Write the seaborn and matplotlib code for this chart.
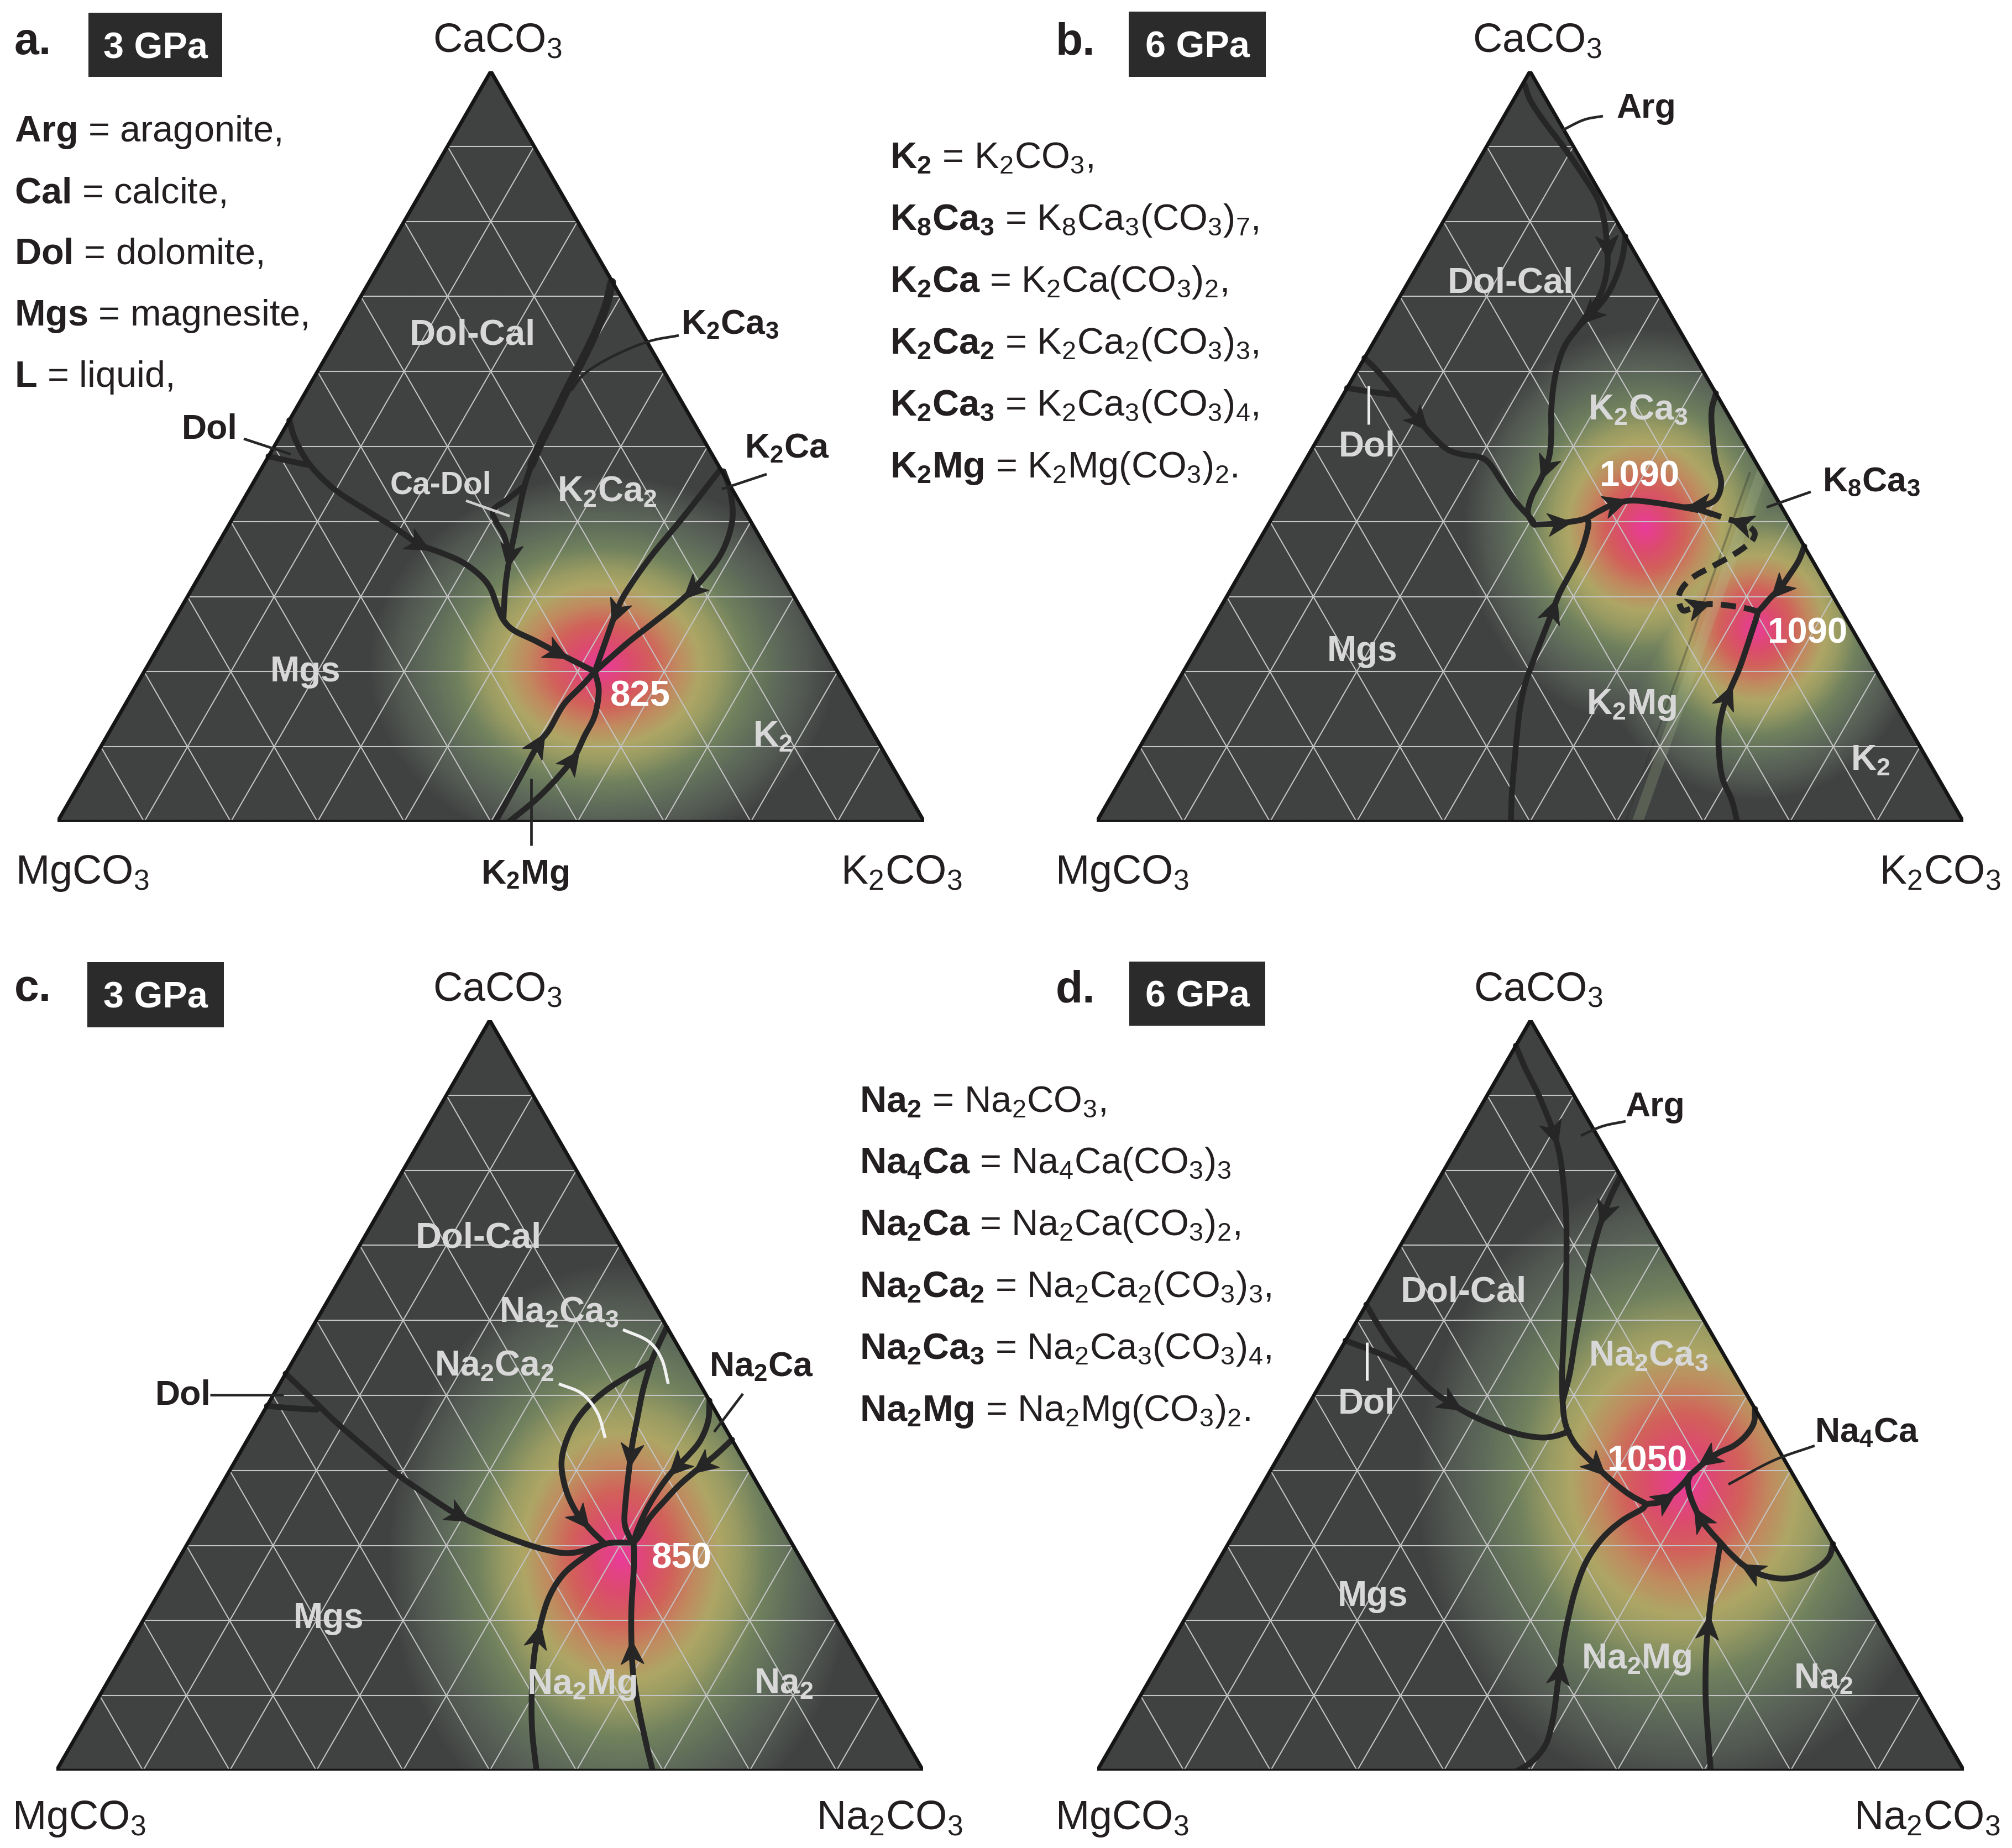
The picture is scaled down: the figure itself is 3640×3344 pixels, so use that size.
import numpy as np
import matplotlib
matplotlib.use("Agg")
import matplotlib.pyplot as plt
import seaborn as sns
from matplotlib.colors import LinearSegmentedColormap
from matplotlib.patches import Polygon, Rectangle
from matplotlib.markers import MarkerStyle
from matplotlib.path import Path
from matplotlib.transforms import Affine2D

# ---------------- DATA: boundary curves as (CaCO3 mol%, alkali carbonate mol%) ----------------
# panel a : 3 GPa, K2CO3-MgCO3-CaCO3
A_DOL = [(53.5, 0), (50.9, 2.0), (47.6, 5.3), (44.3, 9.8), (41.5, 14.9), (39.2, 19.3), (37.0, 23.2),
         (35.9, 26.2), (34.7, 29.2), (33.0, 32.1), (31.2, 34.3), (28.8, 36.3), (26.9, 38.0),
         (25.5, 39.9), (24.1, 43.1), (22.4, 46.7), (20.0, 52.0)]
A_DOL_SMALL = [(48.7, 0), (48.1, 2.6), (47.5, 5.4)]
A_K2CA3_TOP = [(71.9, 28.0), (68.8, 28.9), (65.1, 29.5), (61.3, 29.8), (57.5, 30.0), (53.8, 30.3),
               (50.5, 30.5), (47.6, 30.9)]
A_K2CA3_LOW = [(47.6, 30.9), (44.8, 31.5), (41.5, 32.5), (38.2, 33.6), (35.4, 34.5), (32.1, 35.7),
               (29.3, 36.9), (26.9, 38.0)]
A_CADOL = [(44.6, 31.4), (42.9, 30.4), (41.5, 29.5), (39.9, 30.7), (38.2, 32.4), (35.9, 34.1)]
A_K2CA_1 = [(46.9, 53.0), (40.6, 51.9), (35.4, 50.8), (30.7, 50.3), (27.9, 50.5), (24.1, 51.2), (20.0, 52.0)]
A_K2CA_2 = [(46.7, 53.5), (43.9, 55.7), (40.1, 57.8), (35.9, 58.7), (32.1, 58.2), (29.3, 57.1),
            (26.7, 55.6), (24.1, 54.0), (21.7, 52.8), (20.0, 52.0)]
A_MG_1 = [(0, 50.5), (1.9, 50.5), (6.2, 50.4), (10.4, 50.3), (12.3, 50.6), (15.6, 50.6), (18.0, 51.4), (20.0, 52.0)]
A_MG_2 = [(0, 52.1), (2.9, 53.7), (5.7, 54.7), (8.6, 55.3), (11.4, 55.1), (14.2, 54.9), (17.5, 53.7), (20.0, 52.0)]

# panel b : 6 GPa, K2CO3-MgCO3-CaCO3
B_ARG_1 = [(98.2, 0.3), (96.1, 2.0), (93.3, 5.0), (89.5, 9.4), (86.2, 13.0), (83.0, 16.3), (80.1, 18.5),
           (77.3, 20.2), (74.5, 21.7), (72.1, 22.6), (70.0, 23.0), (67.9, 22.8), (65.9, 22.6)]
B_ARG_2 = [(78.0, 22.0), (75.4, 23.0), (72.8, 23.6), (70.5, 23.8), (68.6, 23.5), (67.1, 23.0), (65.9, 22.6)]
B_ARG_MAIN = [(65.9, 22.6), (63.7, 22.3), (61.1, 22.7), (58.0, 23.7), (54.7, 25.1), (51.5, 26.7),
              (48.6, 27.9), (45.8, 28.4), (43.5, 28.5), (41.3, 29.1), (39.9, 30.3), (39.6, 30.7)]
B_DOL = [(61.8, 0), (59.9, 2.6), (57.6, 5.4), (55.2, 8.2), (53.1, 10.9), (51.2, 13.3), (49.6, 15.7),
         (48.9, 17.9), (48.6, 19.9), (47.7, 21.5), (45.3, 24.1), (42.5, 27.2), (40.4, 29.9), (39.6, 30.7)]
B_DOL_SMALL = [(57.8, 0), (57.3, 3.0), (56.9, 6.0)]
B_EUT1_LEFT = [(39.6, 30.7), (39.7, 32.8), (40.0, 34.8), (40.4, 36.2), (41.4, 37.3), (42.3, 38.5),
               (42.8, 40.3), (42.5, 43.3), (41.9, 46.8)]
B_EUT1_RIGHT = [(57.1, 42.9), (54.7, 43.6), (51.5, 45.3), (48.2, 47.3), (45.3, 49.4), (43.2, 50.0),
                (42.3, 49.3), (42.0, 47.8), (41.9, 46.8)]
B_K8CA3 = [(41.9, 46.8), (41.3, 49.6), (40.4, 52.4), (39.7, 54.8), (38.7, 56.5), (37.6, 56.9), (36.5, 56.4),
           (35.3, 55.4), (34.0, 54.0), (32.7, 52.6), (31.2, 52.0), (29.7, 52.3), (28.2, 53.5), (28.4, 54.4),
           (29.0, 56.1), (28.8, 58.6), (28.4, 60.9), (28.0, 62.3)]
B_EUT2_EDGE = [(36.7, 63.3), (34.8, 63.6), (32.9, 63.5), (31.2, 63.3), (29.8, 62.8), (28.6, 62.5), (28.0, 62.3)]
B_EUT2_BASE = [(0, 73.9), (2.8, 71.9), (5.8, 69.3), (9.2, 67.2), (12.2, 65.7), (15.2, 64.7), (17.5, 64.3),
               (20.1, 64.0), (22.7, 63.5), (25.0, 63.0), (26.9, 62.6), (28.0, 62.3)]
B_K2MG = [(0, 47.8), (3.6, 46.1), (7.3, 44.5), (11.1, 42.9), (14.8, 41.4), (18.2, 40.3), (21.2, 39.7),
          (24.2, 39.2), (27.3, 38.7), (30.3, 38.2), (32.9, 38.1), (35.2, 38.0), (37.4, 37.6), (39.7, 36.9), (40.4, 36.2)]
B_SEAM = [(0, 62.4), (46.5, 53.5)]   # faint seam of the 6 GPa K map

# panel c : 3 GPa, Na2CO3-MgCO3-CaCO3
C_DOL = [(52.9, 0), (50.2, 3.8), (46.6, 8.8), (43.0, 14.2), (39.6, 19.4), (37.0, 23.9), (34.3, 28.8),
         (32.5, 32.8), (30.8, 37.3), (29.5, 41.5), (29.0, 44.9), (30.2, 48.2)]
C_DOL_SMALL = [(48.6, 0), (48.3, 3.0), (48.1, 6.0)]
C_TOP = [(59.0, 40.9), (56.7, 41.1), (54.4, 41.4)]
C_NA2CA2 = [(54.4, 41.4), (52.7, 39.8), (50.7, 38.1), (48.1, 36.9), (45.1, 36.7), (41.4, 37.6),
            (37.8, 39.8), (34.7, 42.5), (32.4, 45.2), (30.2, 48.2)]
C_NA2CA3 = [(54.4, 41.4), (50.8, 42.3), (47.1, 43.5), (43.5, 44.7), (39.9, 46.1), (36.2, 47.6),
            (33.1, 49.0), (31.3, 50.4), (30.4, 51.4)]
C_NA2CA_1 = [(49.3, 50.7), (46.6, 51.9), (44.0, 52.3), (42.0, 51.9), (40.1, 51.2), (37.8, 50.8),
             (35.0, 50.7), (32.1, 51.0), (30.4, 51.4)]
C_NA2CA_2 = [(44.1, 55.9), (42.0, 55.0), (40.3, 54.0), (38.2, 52.9), (36.0, 52.2), (33.6, 51.6),
             (31.3, 51.6), (30.4, 51.4)]
C_MG_1 = [(0, 55.4), (5.2, 52.3), (10.3, 49.7), (15.5, 47.4), (19.2, 46.2), (23.0, 45.3), (26.1, 45.4),
          (28.4, 46.6), (30.2, 48.2), (30.4, 51.4)]
C_MG_2 = [(0, 68.8), (4.1, 65.9), (8.8, 62.7), (12.9, 60.1), (17.1, 57.8), (21.7, 55.5), (26.4, 53.4),
          (28.7, 52.3), (30.4, 51.4)]

# panel d : 6 GPa, Na2CO3-MgCO3-CaCO3
D_ARG = [(96.6, 0), (93.7, 2.5), (90.6, 5.4), (87.5, 8.1), (84.7, 10.4), (81.8, 12.5), (78.2, 14.7),
         (74.0, 17.1), (68.9, 19.7), (63.7, 22.2), (58.5, 24.6), (53.3, 27.0), (49.2, 29.1), (46.1, 31.0),
         (43.5, 33.4), (41.2, 36.4), (38.8, 39.8), (36.8, 43.0), (35.5, 45.7)]
D_NA2CA3 = [(79.0, 20.8), (76.4, 21.0), (73.0, 21.6), (69.4, 22.5), (65.2, 23.8), (61.1, 25.2),
            (57.0, 26.6), (52.8, 28.1), (49.2, 29.1)]
D_DOL = [(62.1, 0), (59.5, 2.6), (56.4, 5.9), (53.3, 9.7), (50.7, 13.2), (48.9, 16.4), (47.4, 19.4),
         (46.0, 22.8), (44.9, 26.0), (44.4, 28.9), (44.6, 30.6), (45.2, 31.8)]
D_DOL_SMALL = [(57.3, 0), (55.8, 4.2), (54.1, 8.4)]
D_MG_1 = [(0, 48.5), (1.3, 49.6), (3.6, 50.0), (7.0, 49.1), (10.4, 47.8), (13.8, 46.5), (17.2, 45.2),
          (20.6, 44.1), (24.2, 43.1), (27.9, 42.5), (31.0, 42.8), (33.3, 43.9), (34.8, 45.4), (35.5, 45.7),
          (35.8, 47.1), (37.0, 48.0), (38.3, 48.5), (39.4, 48.7)]
D_NA4CA = [(48.2, 51.8), (46.3, 52.6), (44.6, 52.5), (43.3, 51.8), (42.5, 50.7), (41.5, 49.7),
           (40.4, 49.2), (39.4, 48.7)]
D_PERI = [(30.4, 56.7), (31.8, 54.9), (33.4, 53.0), (35.2, 51.3), (36.9, 49.9), (38.3, 49.0), (39.4, 48.7)]
D_NA2 = [(30.2, 69.8), (28.5, 70.2), (27.0, 69.6), (25.9, 68.1), (25.6, 66.1), (26.1, 63.6),
         (27.3, 61.0), (29.0, 58.5), (30.4, 56.7)]
D_MG_2 = [(0, 70.8), (4.2, 68.4), (9.8, 65.3), (15.5, 62.5), (19.4, 60.8), (23.4, 59.2), (26.8, 58.0), (30.4, 56.7)]

# arrow heads: (CaCO3 %, alkali %, +1 along listed order / -1 against it)
A_DOL_AR = [(37.0, 23.2, 1), (22.6, 46.3, 1)]
A_K2CA3_AR = [(35.4, 34.5, 1)]
A_K2CA_1_AR = [(27.9, 50.5, 1)]
A_K2CA_2_AR = [(30.7, 57.9, 1)]
A_MG_1_AR = [(10.4, 50.3, 1)]
A_MG_2_AR = [(8.3, 55.2, 1)]
B_ARG_1_AR = [(76.4, 20.7, 1)]
B_ARG_2_AR = [(67.5, 23.1, 1)]
B_ARG_MAIN_AR = [(47.2, 28.3, 1)]
B_DOL_AR = [(53.3, 10.6, 1)]
B_EUT1_LEFT_AR = [(39.8, 33.5, 1), (42.3, 38.8, 1)]
B_EUT1_RIGHT_AR = [(42.2, 48.3, 1)]
B_K8CA3_AR = [(39.9, 54.3, -1), (28.7, 55.1, 1)]
B_EUT2_EDGE_AR = [(31.0, 63.2, 1)]
B_EUT2_BASE_AR = [(16.7, 64.3, 1)]
B_K2MG_AR = [(28.4, 37.9, 1)]
C_DOL_AR = [(33.9, 29.5, 1)]
C_NA2CA2_AR = [(33.7, 43.9, 1)]
C_NA2CA3_AR = [(42.0, 45.1, 1)]
C_NA2CA_1_AR = [(40.7, 51.2, 1)]
C_NA2CA_2_AR = [(40.7, 54.1, 1)]
C_MG_1_AR = [(18.1, 46.3, 1)]
C_MG_2_AR = [(16.0, 58.3, 1)]
D_ARG_AR = [(84.9, 10.5, 1), (40.4, 37.2, 1)]
D_NA2CA3_AR = [(74.3, 21.1, 1)]
D_DOL_AR = [(48.9, 16.4, 1)]
D_MG_1_AR = [(13.2, 46.3, 1), (36.2, 47.5, 1)]
D_NA4CA_AR = [(41.5, 49.7, 1)]
D_PERI_AR = [(33.5, 52.7, 1)]
D_NA2_AR = [(26.6, 62.2, 1)]
D_MG_2_AR = [(19.1, 61.0, 1)]

# temperature glows: (CaCO3 %, alkali %) of hottest spot (eutectic regions)
GLOW_A = [(20.8, 52.4)]
GLOW_B = [(39.3, 43.6), (25.8, 63.2)]
GLOW_C = [(28.5, 50.9)]
GLOW_D = [(38.3, 48.5)]
EUTECTIC_T = {"a": "825", "b": "1090", "c": "850", "d": "1050"}

# ---------------- style ----------------
sns.set_theme(style="white")
plt.rcParams["font.family"] = ["Liberation Sans", "DejaVu Sans"]
plt.rcParams["mathtext.fontset"] = "custom"
plt.rcParams["mathtext.rm"] = "Liberation Sans"
plt.rcParams["mathtext.bf"] = "Liberation Sans:bold"
plt.rcParams["mathtext.it"] = "Liberation Sans:italic"
plt.rcParams["mathtext.sf"] = "Liberation Sans"
plt.rcParams["mathtext.default"] = "regular"

W, H, DPI = 3640, 3344, 200
SIDE = 1568
SQ3 = np.sqrt(3) / 2
BG = "#404241"
CURVE = "#262626"
TXT = "#231f20"
LAB = "#d8d8d8"
LW = 3.8
GLOW_CMAP = LinearSegmentedColormap.from_list("glow", [
    (0.0, BG), (0.12, "#525752"), (0.25, "#5e6b5a"), (0.38, "#70815e"), (0.50, "#9a9c63"),
    (0.58, "#aea665"), (0.68, "#c18a5f"), (0.78, "#d2615a"), (0.88, "#dc4b6e"), (1.0, "#ea3b9b")])

STEALTH = Path([(1, 0), (-1, 0.95), (-0.45, 0), (-1, -0.95), (1, 0)],
               [Path.MOVETO, Path.LINETO, Path.LINETO, Path.LINETO, Path.CLOSEPOLY])

fig = plt.figure(figsize=(W / DPI, H / DPI), dpi=DPI)
fig.patch.set_facecolor("white")


def tern(pts):
    a = np.asarray(pts, float)
    ca, al = a[:, 0] / 100.0, a[:, 1] / 100.0
    return al + ca / 2.0, ca * SQ3


def smooth(x, y, n=14):
    P = np.column_stack([x, y])
    if len(P) < 3:
        return np.asarray(x, float), np.asarray(y, float)
    P = np.vstack([2 * P[0] - P[1], P, 2 * P[-1] - P[-2]])
    out = []
    for i in range(1, len(P) - 2):
        p0, p1, p2, p3 = P[i - 1], P[i], P[i + 1], P[i + 2]
        for t in np.linspace(0, 1, n, endpoint=False):
            out.append(0.5 * (2 * p1 + (-p0 + p2) * t + (2 * p0 - 5 * p1 + 4 * p2 - p3) * t * t
                              + (-p0 + 3 * p1 - 3 * p2 + p3) * t ** 3))
    out.append(P[-2])
    out = np.array(out)
    return out[:, 0], out[:, 1]


def draw_curve(ax, pts, arrows=(), lw=LW, ls="-"):
    x, y = tern(pts)
    xs, ys = smooth(x, y)
    n0 = len(ax.lines)
    sns.lineplot(x=xs, y=ys, sort=False, estimator=None, ax=ax, color=CURVE, legend=False, zorder=6)
    for ln in ax.lines[n0:]:
        ln.set_linewidth(lw)
        ln.set_linestyle(ls)
        ln.set_solid_capstyle("round")
        ln.set_dash_capstyle("butt")
    for ca, al, d in arrows:
        px, py = tern([(ca, al)])
        i = int(np.argmin(np.hypot(xs - px[0], ys - py[0])))
        i0, i1 = max(i - 2, 0), min(i + 2, len(xs) - 1)
        ang = np.degrees(np.arctan2(ys[i1] - ys[i0], xs[i1] - xs[i0])) + (0 if d > 0 else 180)
        ms = MarkerStyle(STEALTH, transform=Affine2D().rotate_deg(ang))
        ax.plot([xs[i]], [ys[i]], marker=ms, ms=15.5, color=CURVE, mec=CURVE, mew=0.6,
                ls="none", zorder=7)


def panel(bl_x, bl_y, glows, glow_r, curves, seam=None):
    ax = fig.add_axes([bl_x / W, 1 - bl_y / H, SIDE / W, SIDE * SQ3 / H])
    ax.set_xlim(0, 1)
    ax.set_ylim(0, SQ3)
    ax.axis("off")
    corners = [[0, 0], [1, 0], [0.5, SQ3]]
    tri = Polygon(corners, closed=True, facecolor=BG, edgecolor="none", zorder=0)
    ax.add_patch(tri)
    # glow field
    X, Y = np.meshgrid(np.linspace(0, 1, 800), np.linspace(0, SQ3, 700))
    T = np.zeros_like(X)
    for (ca, al), (rx, ry) in zip(glows, glow_r):
        cx, cy = al / 100 + ca / 200, ca / 100 * SQ3
        r = np.sqrt(((X - cx) / rx) ** 2 + ((Y - cy) / ry) ** 2)
        T = np.maximum(T, np.clip(1 - r, 0, 1))
    im = ax.imshow(T, extent=(0, 1, 0, SQ3), origin="lower", cmap=GLOW_CMAP, vmin=0, vmax=1,
                   interpolation="bilinear", aspect="auto", zorder=1)
    im.set_clip_path(tri)
    ax.set_xlim(0, 1)
    ax.set_ylim(0, SQ3)
    if seam is not None:
        sx, sy = tern(seam)
        l1, = ax.plot(sx, sy, color="#b9c79a", lw=7, alpha=0.22, zorder=1.5)
        l2, = ax.plot(sx - 0.014, sy, color="#2f332f", lw=1.4, alpha=0.35, zorder=1.5)
        l1.set_clip_path(tri)
        l2.set_clip_path(tri)
    # grid every 10 %
    for k in range(1, 10):
        f = k * 10
        for seg in ([(f, 0), (f, 100 - f)], [(0, f), (100 - f, f)], [(0, 100 - f), (100 - f, 0)]):
            gx, gy = tern(seg)
            ax.plot(gx, gy, color="#c4c4c4", lw=0.75, zorder=2, solid_capstyle="butt")
    for pts, arrows, kw in curves:
        draw_curve(ax, pts, arrows, **kw)
    ax.add_patch(Polygon(corners, closed=True, fill=False, edgecolor="#151515", lw=2.4,
                         joinstyle="miter", zorder=8))
    return ax


N = {}
panel(104, 1487, GLOW_A, [(0.27, 0.22)], [
    (A_DOL, A_DOL_AR, N), (A_DOL_SMALL, [], N), (A_K2CA3_TOP, [], dict(lw=5.6)),
    (A_K2CA3_LOW, A_K2CA3_AR, N), (A_CADOL, [], N), (A_K2CA_1, A_K2CA_1_AR, N),
    (A_K2CA_2, A_K2CA_2_AR, N), (A_MG_1, A_MG_1_AR, N), (A_MG_2, A_MG_2_AR, N)])
panel(1984, 1487, GLOW_B, [(0.21, 0.23), (0.19, 0.20)], [
    (B_ARG_1, B_ARG_1_AR, N), (B_ARG_2, B_ARG_2_AR, N), (B_ARG_MAIN, B_ARG_MAIN_AR, N),
    (B_DOL, B_DOL_AR, N), (B_DOL_SMALL, [], N), (B_EUT1_LEFT, B_EUT1_LEFT_AR, N),
    (B_EUT1_RIGHT, B_EUT1_RIGHT_AR, N), (B_K8CA3, B_K8CA3_AR, dict(ls=(0, (2.6, 1.4)))),
    (B_EUT2_EDGE, B_EUT2_EDGE_AR, N), (B_EUT2_BASE, B_EUT2_BASE_AR, N), (B_K2MG, B_K2MG_AR, N)],
    seam=B_SEAM)
panel(102, 3204, GLOW_C, [(0.27, 0.34)], [
    (C_DOL, C_DOL_AR, N), (C_DOL_SMALL, [], N), (C_TOP, [], N), (C_NA2CA2, C_NA2CA2_AR, N),
    (C_NA2CA3, C_NA2CA3_AR, N), (C_NA2CA_1, C_NA2CA_1_AR, N), (C_NA2CA_2, C_NA2CA_2_AR, N),
    (C_MG_1, C_MG_1_AR, N), (C_MG_2, C_MG_2_AR, N)])
panel(1985, 3204, GLOW_D, [(0.31, 0.36)], [
    (D_ARG, D_ARG_AR, N), (D_NA2CA3, D_NA2CA3_AR, N), (D_DOL, D_DOL_AR, N), (D_DOL_SMALL, [], N),
    (D_MG_1, D_MG_1_AR, N), (D_NA4CA, D_NA4CA_AR, N), (D_PERI, D_PERI_AR, N), (D_NA2, D_NA2_AR, N),
    (D_MG_2, D_MG_2_AR, N)])

# ---------------- overlay for text, boxes and leader lines (pixel layout) ----------------
ov = fig.add_axes([0, 0, 1, 1], zorder=20)
ov.set_xlim(0, W)
ov.set_ylim(H, 0)
ov.axis("off")
ov.patch.set_alpha(0)


def T(x, y, s, size, weight="normal", color=TXT, ha="center", va="baseline"):
    ov.text(x, y, s, fontsize=size, fontweight=weight, color=color, ha=ha, va=va)


def leader(xs, ys, color=CURVE, lw=1.7):
    x, y = smooth(np.array(xs, float), np.array(ys, float))
    ov.plot(x, y, color=color, lw=lw, solid_capstyle="butt")


# panel letters and pressure boxes
for (lx, ly, let), (bx, by, bw, bh, p) in zip(
        [(26, 98, "a."), (1910, 98, "b."), (26, 1811, "c."), (1910, 1813, "d.")],
        [(160, 23, 242, 116, "3 GPa"), (2042, 21, 248, 118, "6 GPa"),
         (158, 1741, 247, 118, "3 GPa"), (2043, 1740, 246, 116, "6 GPa")]):
    T(lx, ly, let, 29, "bold", ha="left")
    ov.add_patch(Rectangle((bx, by), bw, bh, facecolor="#2b2b2b", edgecolor="none"))
    T(bx + bw / 2, by + bh / 2, p, 24, "bold", color="white", va="center_baseline")

# corner labels
for cx, cy, s in [(900, 94, "CaCO$_3$"), (149, 1599, "MgCO$_3$"), (1631, 1599, "K$_2$CO$_3$"),
                  (2781, 94, "CaCO$_3$"), (2030, 1599, "MgCO$_3$"), (3510, 1599, "K$_2$CO$_3$"),
                  (900, 1811, "CaCO$_3$"), (143, 3310, "MgCO$_3$"), (1609, 3310, "Na$_2$CO$_3$"),
                  (2783, 1811, "CaCO$_3$"), (2030, 3310, "MgCO$_3$"), (3486, 3310, "Na$_2$CO$_3$")]:
    T(cx, cy, s, 26.5)

# abbreviation legends
LEG_MIN = [r"$\mathbf{Arg}$ = aragonite,", r"$\mathbf{Cal}$ = calcite,", r"$\mathbf{Dol}$ = dolomite,",
           r"$\mathbf{Mgs}$ = magnesite,", r"$\mathbf{L}$ = liquid,"]
LEG_K = [r"$\mathbf{K_2}$ = K$_2$CO$_3$,", r"$\mathbf{K_8Ca_3}$ = K$_8$Ca$_3$(CO$_3$)$_7$,",
         r"$\mathbf{K_2Ca}$ = K$_2$Ca(CO$_3$)$_2$,", r"$\mathbf{K_2Ca_2}$ = K$_2$Ca$_2$(CO$_3$)$_3$,",
         r"$\mathbf{K_2Ca_3}$ = K$_2$Ca$_3$(CO$_3$)$_4$,", r"$\mathbf{K_2Mg}$ = K$_2$Mg(CO$_3$)$_2$."]
LEG_NA = [r"$\mathbf{Na_2}$ = Na$_2$CO$_3$,", r"$\mathbf{Na_4Ca}$ = Na$_4$Ca(CO$_3$)$_3$",
          r"$\mathbf{Na_2Ca}$ = Na$_2$Ca(CO$_3$)$_2$,", r"$\mathbf{Na_2Ca_2}$ = Na$_2$Ca$_2$(CO$_3$)$_3$,",
          r"$\mathbf{Na_2Ca_3}$ = Na$_2$Ca$_3$(CO$_3$)$_4$,", r"$\mathbf{Na_2Mg}$ = Na$_2$Mg(CO$_3$)$_2$."]
for i, s in enumerate(LEG_MIN):
    T(26, 256 + 111 * i, s, 24, ha="left")
for i, s in enumerate(LEG_K):
    T(1610, 304 + 112 * i, s, 24, ha="left")
for i, s in enumerate(LEG_NA):
    T(1555, 2011 + 112 * i, s, 24, ha="left")

# field labels inside triangles (light grey) and eutectic temperatures (white)
for x, y, s, sz in [(855, 624, "Dol-Cal", 23.5), (553, 1233, "Mgs", 23), (797, 894, "Ca-Dol", 20.5),
                    (1098, 908, "K$_2$Ca$_2$", 23), (1398, 1351, "K$_2$", 23),
                    (2733, 530, "Dol-Cal", 23.5), (2963, 759, "K$_2$Ca$_3$", 23), (2473, 826, "Dol", 23),
                    (2465, 1196, "Mgs", 23), (2952, 1292, "K$_2$Mg", 23), (3384, 1394, "K$_2$", 23),
                    (866, 2257, "Dol-Cal", 23.5), (1011, 2392, "Na$_2$Ca$_3$", 23),
                    (894, 2490, "Na$_2$Ca$_2$", 23), (595, 2946, "Mgs", 23),
                    (1052, 3065, "Na$_2$Mg", 23), (1418, 3065, "Na$_2$", 23),
                    (2648, 2356, "Dol-Cal", 23.5), (2982, 2471, "Na$_2$Ca$_3$", 23), (2472, 2557, "Dol", 23),
                    (2484, 2906, "Mgs", 23), (2960, 3019, "Na$_2$Mg", 23), (3299, 3056, "Na$_2$", 23)]:
    T(x, y, s, sz, "bold", color=LAB)
for x, y, key in [(1158, 1277, "a"), (2966, 880, "b"), (3270, 1164, "b"), (1233, 2837, "c"), (2980, 2662, "d")]:
    T(x, y, EUTECTIC_T[key], 23.5, "bold", color="white")

# outside labels (black bold)
for x, y, s in [(1320, 604, "K$_2$Ca$_3$"), (1424, 828, "K$_2$Ca"), (379, 794, "Dol"), (950, 1599, "K$_2$Mg"),
                (2978, 213, "Arg"), (3385, 889, "K$_8$Ca$_3$"),
                (331, 2541, "Dol"), (1377, 2490, "Na$_2$Ca"),
                (2994, 2020, "Arg"), (3377, 2609, "Na$_4$Ca")]:
    T(x, y, s, 22.5, "bold")

# leader lines
leader([1228, 1173, 1110, 1059, 1033], [607, 618, 644, 675, 707])
leader([1387, 1306], [858, 885])
leader([961, 961], [1409, 1530])
leader([441, 526], [794, 822])
leader([843, 922], [906, 934], color="#cfcfcf")
leader([2900, 2865, 2826], [210, 217, 236])
leader([3276, 3196], [890, 918])
leader([2476, 2476], [698, 768], color="#eeeeee", lw=1.8)
leader([380, 513], [2524, 2524])
leader([1344, 1292], [2522, 2591])
leader([1127, 1173, 1197, 1209], [2406, 2427, 2459, 2504], color="#f2f2f2", lw=2.0)
leader([1011, 1053, 1081, 1095], [2504, 2522, 2557, 2602], color="#f2f2f2", lw=2.0)
leader([2941, 2899, 2860], [2029, 2038, 2055])
leader([3283, 3208, 3127], [2616, 2643, 2686])
leader([2473, 2473], [2429, 2498], color="#eeeeee", lw=1.8)

fig.savefig("out.png", dpi=DPI, facecolor="white")
